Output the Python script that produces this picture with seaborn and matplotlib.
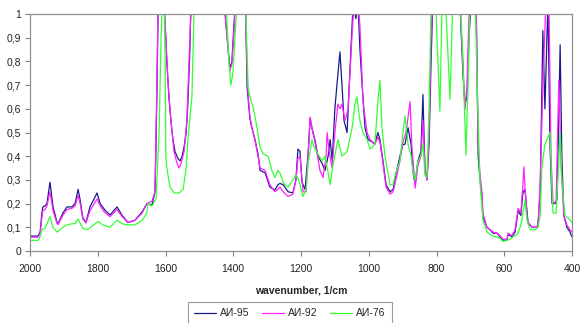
import numpy as np
import pandas as pd
import seaborn as sns
import matplotlib.pyplot as plt
from matplotlib.ticker import FixedLocator

# spectra (wavenumber, absorbance); values above 1 are clipped by the axis
wn_95 = [2000, 1976, 1970, 1965, 1962, 1956, 1950, 1941, 1932, 1920, 1917, 1903, 1891, 1876, 1867,
         1858, 1852, 1844, 1835, 1823, 1802, 1793, 1779, 1764, 1743, 1728, 1711, 1690, 1669, 1655,
         1640, 1631, 1628, 1625, 1622, 1616, 1607, 1601, 1596, 1590, 1584, 1578, 1572, 1563, 1557,
         1551, 1545, 1539, 1534, 1528, 1525, 1519, 1469, 1433, 1424, 1418, 1410, 1404, 1398, 1392,
         1380, 1365, 1359, 1356, 1351, 1345, 1336, 1327, 1321, 1306, 1292, 1277, 1268, 1262, 1253,
         1238, 1224, 1215, 1209, 1203, 1197, 1188, 1179, 1173, 1168, 1159, 1150, 1138, 1129, 1120,
         1114, 1108, 1100, 1094, 1085, 1079, 1073, 1064, 1055, 1046, 1038, 1032, 1026, 1020, 1011,
         1002, 990, 982, 973, 967, 958, 949, 937, 928, 920, 908, 899, 893, 884, 875,
         869, 863, 855, 846, 840, 834, 828, 822, 816, 810, 804, 790, 775, 760, 745,
         731, 722, 716, 710, 704, 698, 683, 677, 672, 666, 663, 651, 642, 633, 621,
         613, 604, 592, 589, 577, 568, 559, 551, 545, 539, 533, 530, 518, 503, 500,
         494, 486, 480, 471, 465, 459, 450, 444, 435, 430, 424, 415, 406, 400]
ai95 = [0.063, 0.063, 0.08, 0.16, 0.186, 0.19, 0.2, 0.29, 0.186, 0.12, 0.115, 0.16, 0.186, 0.186, 0.2,
        0.26, 0.215, 0.14, 0.12, 0.186, 0.245, 0.2, 0.173, 0.152, 0.186, 0.15, 0.12, 0.13, 0.165, 0.2,
        0.194, 0.25, 0.45, 0.7, 1.0, 1.2, 1.1, 0.95, 0.8, 0.65, 0.55, 0.47, 0.42, 0.39, 0.38,
        0.40, 0.44, 0.5, 0.62, 0.85, 1.05, 1.2, 1.3, 1.2, 1.0, 0.9, 0.77, 0.8, 0.95, 1.1,
        1.2, 1.1, 0.69, 0.64, 0.56, 0.52, 0.47, 0.41, 0.34, 0.33, 0.27, 0.257, 0.28, 0.285, 0.28,
        0.25, 0.245, 0.3, 0.43, 0.42, 0.29, 0.26, 0.41, 0.56, 0.52, 0.47, 0.40, 0.37, 0.34, 0.40,
        0.47, 0.38, 0.6, 0.7, 0.84, 0.7, 0.55, 0.5, 0.78, 1.05, 0.98, 1.05, 0.85, 0.71, 0.52,
        0.47, 0.46, 0.45, 0.5, 0.47, 0.38, 0.28, 0.25, 0.26, 0.32, 0.40, 0.45, 0.45, 0.52, 0.45,
        0.33, 0.28, 0.38, 0.42, 0.66, 0.34, 0.30, 0.45, 0.8, 1.1, 1.1, 1.1, 1.1, 1.05, 1.1,
        1.05, 0.75, 0.62, 0.65, 0.9, 1.05, 1.05, 0.4, 0.31, 0.23, 0.145, 0.10, 0.09, 0.075, 0.075,
        0.06, 0.046, 0.046, 0.07, 0.06, 0.08, 0.17, 0.15, 0.245, 0.26, 0.17, 0.12, 0.10, 0.10, 0.12,
        0.245, 0.93, 0.6, 1.05, 0.45, 0.2, 0.2, 0.22, 0.87, 0.4, 0.15, 0.10, 0.08, 0.06]

wn_92 = [2000, 1976, 1970, 1965, 1962, 1956, 1950, 1941, 1932, 1920, 1917, 1903, 1891, 1876, 1867,
         1858, 1852, 1844, 1835, 1823, 1802, 1793, 1779, 1764, 1743, 1728, 1711, 1690, 1669, 1655,
         1640, 1631, 1625, 1622, 1613, 1604, 1599, 1593, 1584, 1575, 1566, 1560, 1554, 1545, 1537,
         1528, 1522, 1513, 1469, 1433, 1424, 1418, 1410, 1404, 1398, 1392, 1380, 1365, 1359, 1356,
         1351, 1345, 1336, 1327, 1321, 1306, 1292, 1277, 1268, 1262, 1253, 1238, 1224, 1215, 1209,
         1203, 1194, 1185, 1179, 1173, 1165, 1156, 1144, 1135, 1126, 1123, 1117, 1108, 1100, 1091,
         1085, 1079, 1070, 1061, 1049, 1043, 1032, 1026, 1017, 1005, 996, 982, 973, 967, 958,
         949, 937, 928, 920, 908, 899, 890, 878, 873, 863, 855, 846, 840, 834, 828,
         822, 816, 810, 804, 790, 775, 760, 745, 731, 722, 716, 710, 704, 698, 683,
         677, 672, 666, 663, 651, 642, 633, 621, 613, 604, 592, 589, 577, 568, 559,
         551, 545, 542, 539, 533, 530, 518, 503, 500, 494, 486, 477, 468, 462, 456,
         447, 439, 432, 424, 415, 406, 400]
ai92 = [0.058, 0.058, 0.075, 0.14, 0.17, 0.175, 0.19, 0.25, 0.17, 0.115, 0.112, 0.15, 0.175, 0.18, 0.19,
        0.235, 0.2, 0.135, 0.118, 0.17, 0.22, 0.19, 0.162, 0.145, 0.175, 0.145, 0.12, 0.13, 0.16, 0.2,
        0.21, 0.25, 0.75, 1.05, 1.2, 1.05, 0.9, 0.72, 0.55, 0.42, 0.37, 0.35, 0.37, 0.42, 0.55,
        0.9, 1.1, 1.2, 1.3, 1.2, 1.0, 0.9, 0.76, 0.79, 0.92, 1.1, 1.2, 1.1, 0.75, 0.66,
        0.57, 0.52, 0.47, 0.40, 0.35, 0.34, 0.28, 0.25, 0.26, 0.27, 0.25, 0.23, 0.24, 0.3, 0.39,
        0.40, 0.25, 0.25, 0.40, 0.565, 0.5, 0.44, 0.34, 0.31, 0.40, 0.50, 0.42, 0.35, 0.5, 0.62,
        0.6, 0.62, 0.55, 0.6, 0.92, 1.05, 1.05, 0.95, 0.63, 0.5, 0.47, 0.45, 0.48, 0.46, 0.37,
        0.27, 0.24, 0.25, 0.30, 0.38, 0.46, 0.5, 0.63, 0.45, 0.265, 0.36, 0.40, 0.55, 0.35, 0.30,
        0.5, 0.9, 1.1, 1.1, 1.1, 1.1, 1.1, 1.1, 1.05, 0.8, 0.595, 0.7, 1.0, 1.05, 1.05,
        0.45, 0.33, 0.25, 0.16, 0.10, 0.09, 0.08, 0.075, 0.065, 0.05, 0.05, 0.075, 0.065, 0.09, 0.18,
        0.16, 0.28, 0.355, 0.27, 0.16, 0.12, 0.10, 0.10, 0.12, 0.28, 0.7, 1.05, 1.05, 0.4, 0.2,
        0.21, 0.72, 0.35, 0.15, 0.11, 0.09, 0.08]

wn_76 = [2000, 1976, 1970, 1965, 1956, 1941, 1932, 1920, 1903, 1891, 1876, 1867, 1858, 1844, 1829,
         1808, 1799, 1785, 1764, 1743, 1728, 1711, 1690, 1669, 1655, 1652, 1640, 1628, 1619, 1613,
         1610, 1604, 1601, 1599, 1596, 1587, 1575, 1560, 1548, 1539, 1534, 1522, 1516, 1513, 1469,
         1433, 1424, 1418, 1413, 1407, 1401, 1395, 1389, 1380, 1365, 1356, 1351, 1342, 1336, 1330,
         1321, 1312, 1297, 1286, 1277, 1268, 1262, 1253, 1247, 1238, 1224, 1215, 1209, 1203, 1194,
         1185, 1179, 1168, 1159, 1150, 1138, 1129, 1120, 1114, 1106, 1091, 1079, 1064, 1049, 1041,
         1035, 1026, 1017, 1005, 996, 982, 973, 967, 961, 952, 937, 928, 920, 908, 899,
         893, 884, 875, 869, 863, 855, 846, 840, 834, 828, 822, 816, 804, 790, 784,
         775, 760, 751, 731, 722, 713, 707, 701, 686, 677, 672, 663, 651, 642, 627,
         613, 604, 592, 583, 574, 562, 553, 548, 539, 533, 524, 509, 500, 494, 489,
         480, 465, 459, 456, 447, 435, 430, 421, 412, 400]
ai76 = [0.045, 0.045, 0.06, 0.09, 0.095, 0.145, 0.10, 0.08, 0.10, 0.11, 0.115, 0.115, 0.135, 0.095, 0.09,
        0.115, 0.125, 0.11, 0.10, 0.13, 0.115, 0.11, 0.11, 0.13, 0.16, 0.2, 0.19, 0.22, 0.5, 0.9,
        1.05, 1.05, 0.8, 0.4, 0.35, 0.27, 0.245, 0.245, 0.26, 0.35, 0.47, 0.65, 1.0, 1.1, 1.3,
        1.2, 1.1, 0.95, 0.8, 0.70, 0.75, 0.9, 1.05, 1.2, 1.1, 0.69, 0.65, 0.61, 0.57, 0.52,
        0.44, 0.41, 0.40, 0.34, 0.31, 0.34, 0.33, 0.29, 0.28, 0.27, 0.30, 0.32, 0.31, 0.28, 0.23,
        0.26, 0.37, 0.47, 0.43, 0.41, 0.38, 0.40, 0.33, 0.28, 0.36, 0.47, 0.40, 0.42, 0.52, 0.62,
        0.65, 0.55, 0.50, 0.47, 0.43, 0.45, 0.63, 0.72, 0.52, 0.40, 0.28, 0.28, 0.33, 0.38, 0.5,
        0.57, 0.45, 0.40, 0.33, 0.30, 0.38, 0.40, 0.45, 0.32, 0.31, 0.6, 1.05, 1.1, 0.59, 1.0,
        1.1, 0.64, 1.1, 1.1, 0.8, 0.405, 0.7, 1.05, 1.05, 0.55, 0.3, 0.13, 0.08, 0.07, 0.06,
        0.055, 0.04, 0.045, 0.05, 0.06, 0.07, 0.1, 0.13, 0.215, 0.13, 0.09, 0.09, 0.1, 0.15, 0.35,
        0.45, 0.5, 0.25, 0.16, 0.16, 0.5, 0.3, 0.15, 0.14, 0.12]

labels = ['АИ-95', 'АИ-92', 'АИ-76']
colors = ['#1a1a8c', '#ff22ff', '#33ff33']
x_ticks = [2000, 1800, 1600, 1400, 1200, 1000, 800, 600, 400]
y_ticks = [0, 0.1, 0.2, 0.3, 0.4, 0.5, 0.6, 0.7, 0.8, 0.9, 1]

df = pd.concat([
    pd.DataFrame({'wn': wn_95, 'A': ai95, 'fuel': labels[0]}),
    pd.DataFrame({'wn': wn_92, 'A': ai92, 'fuel': labels[1]}),
    pd.DataFrame({'wn': wn_76, 'A': ai76, 'fuel': labels[2]}),
])

sns.set_style('white')
plt.rcParams['font.family'] = ['Liberation Sans', 'DejaVu Sans']

fig = plt.figure(figsize=(5.8, 3.23), dpi=100)
ax = fig.add_axes([30 / 580, 1 - 251 / 323, 542 / 580, 237 / 323])

sns.lineplot(ax=ax, data=df, x='wn', y='A', hue='fuel', palette=colors,
             estimator=None, linewidth=0.9, legend=False)

ax.set_xlim(2000, 400)
ax.set_ylim(0, 1)
ax.xaxis.set_major_locator(FixedLocator(x_ticks))
ax.yaxis.set_major_locator(FixedLocator(y_ticks))
ax.set_yticklabels([('%g' % v).replace('.', ',') for v in y_ticks])
ax.tick_params(axis='both', direction='out', length=3.5, width=0.8, color='#808080',
               labelsize=7.5, labelcolor='#222222', pad=3)
ax.tick_params(axis='x', pad=6)
ax.xaxis.set_ticks_position('bottom')
ax.yaxis.set_ticks_position('left')
for s in ax.spines.values():
    s.set_color('#909090')
    s.set_linewidth(0.9)

ax.set_xlabel('wavenumber, 1/cm', fontsize=7.5, fontweight='bold', labelpad=8)
ax.set_ylabel('')

# legend box runs off the bottom edge like the original
handles = [plt.Line2D([], [], color=c, linewidth=0.9) for c in colors]
leg = fig.legend(handles, labels, loc='upper center', bbox_to_anchor=(290 / 580, 1 - 302 / 323),
                 ncol=3, fontsize=7.5, frameon=True, fancybox=False, handlelength=2.1,
                 handletextpad=0.4, columnspacing=1.2, borderpad=0.6, borderaxespad=0)
leg.get_frame().set_edgecolor('#808080')
leg.get_frame().set_linewidth(0.8)

fig.savefig('out.png', dpi=100)
